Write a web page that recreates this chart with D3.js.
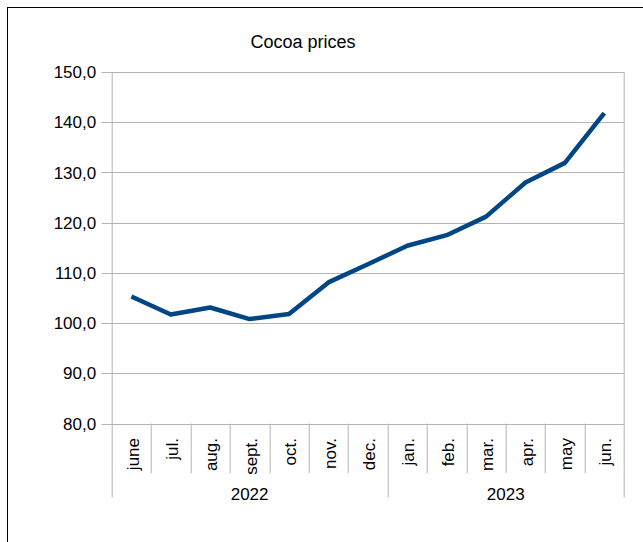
<!DOCTYPE html>
<html>
<head>
<meta charset="utf-8">
<script src="https://cdn.jsdelivr.net/npm/d3@7"></script>
<style>
  body { margin: 0; background: #fff; }
  text { font-family: "Liberation Sans", Arial, sans-serif; fill: #000; }
</style>
</head>
<body>
<div id="chart"></div>
<script>
// --- Data ---
const months = ["june", "jul.", "aug.", "sept.", "oct.", "nov.", "dec.",
                "jan.", "feb.", "mar.", "apr.", "may", "jun."];
const years = ["2022", "2022", "2022", "2022", "2022", "2022", "2022",
               "2023", "2023", "2023", "2023", "2023", "2023"];
const prices = [105.3, 101.7, 103.1, 100.8, 101.8, 108.1, 111.7,
                115.4, 117.5, 121.2, 128.0, 131.9, 141.8];
const yTicks = [80, 90, 100, 110, 120, 130, 140, 150];

// --- Size and margins ---
const W = 643, H = 542;
const margin = { top: 72, right: 19, bottom: 118.5, left: 111.7 },
      width = W - margin.left - margin.right,
      height = H - margin.top - margin.bottom;

const svg = d3.select("#chart")
  .append("svg")
    .attr("width", W)
    .attr("height", H);

// outer frame
svg.append("rect")
   .attr("x", 7.5).attr("y", 7.5)
   .attr("width", W).attr("height", H)
   .attr("fill", "#fff")
   .attr("stroke", "#000");

const g = svg.append("g")
    .attr("transform", `translate(${margin.left},${margin.top})`);

// --- Scales ---
const x = d3.scaleBand()
            .domain(d3.range(months.length))
            .range([0, width]);

const y = d3.scaleLinear()
            .domain([80, 150])
            .range([height, 0]);

const gridColor = "#b3b3b3";

// gridlines + tick marks
g.selectAll(".grid")
 .data(yTicks)
 .enter()
 .append("line")
   .attr("x1", -10)
   .attr("x2", width)
   .attr("y1", d => Math.round(y(d)) + 0.5)
   .attr("y2", d => Math.round(y(d)) + 0.5)
   .attr("stroke", gridColor);

// y labels
g.selectAll(".ylab")
 .data(yTicks)
 .enter()
 .append("text")
   .attr("x", -15.5)
   .attr("y", d => y(d))
   .attr("dy", "0.36em")
   .attr("text-anchor", "end")
   .style("font-size", "17px")
   .text(d => d3.format(".1f")(d).replace(".", ","));

// plot border (left & right)
[0, width].forEach(px => {
  g.append("line")
   .attr("x1", Math.round(px) + 0.5).attr("x2", Math.round(px) + 0.5)
   .attr("y1", 0).attr("y2", height + 74)
   .attr("stroke", gridColor);
});

// month separators
g.selectAll(".msep")
 .data(d3.range(1, months.length))
 .enter()
 .append("line")
   .attr("x1", d => Math.round(x(d)) + 0.5)
   .attr("x2", d => Math.round(x(d)) + 0.5)
   .attr("y1", height)
   .attr("y2", d => years[d] !== years[d - 1] ? height + 74 : height + 49.5)
   .attr("stroke", gridColor);

// month labels
g.selectAll(".mlab")
 .data(months)
 .enter()
 .append("text")
   .attr("transform", (d, i) =>
     `translate(${x(i) + x.bandwidth() / 2 + 1},${height + 14.5}) rotate(-90)`)
   .attr("dy", "0.36em")
   .attr("text-anchor", "end")
   .style("font-size", "17px")
   .text(d => d);

// year labels
const yearGroups = d3.groups(d3.range(months.length), i => years[i]);
g.selectAll(".ylabel")
 .data(yearGroups)
 .enter()
 .append("text")
   .attr("x", d => (x(d[1][0]) + x(d[1][d[1].length - 1]) + x.bandwidth()) / 2)
   .attr("y", height + 76)
   .attr("text-anchor", "middle")
   .style("font-size", "17px")
   .text(d => d[0]);

// --- Line ---
const line = d3.line()
  .x((d, i) => x(i) + x.bandwidth() / 2)
  .y(d => y(d));

g.append("path")
 .datum(prices)
 .attr("fill", "none")
 .attr("stroke", "#004586")
 .attr("stroke-width", 4.5)
 .attr("stroke-linejoin", "round")
 .attr("d", line);

// --- Title ---
svg.append("text")
   .attr("x", 303)
   .attr("y", 48)
   .attr("text-anchor", "middle")
   .style("font-size", "18px")
   .text("Cocoa prices");
</script>
</body>
</html>
